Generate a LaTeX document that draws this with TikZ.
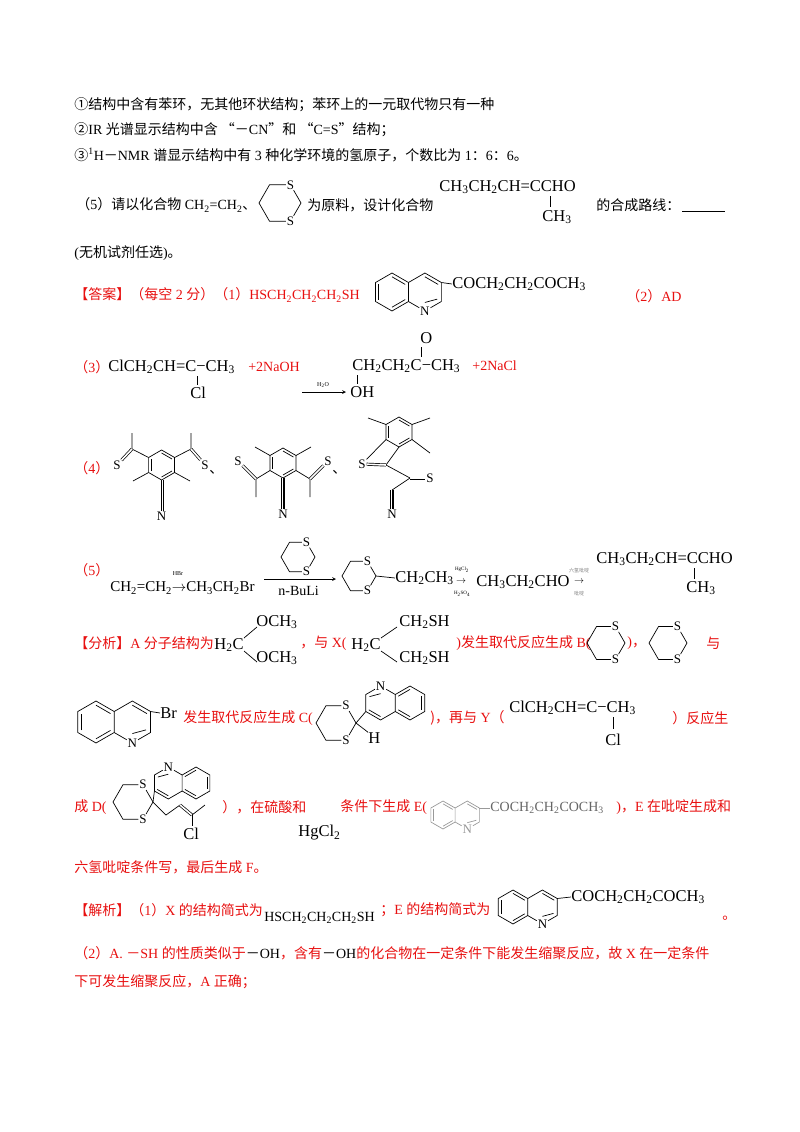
\documentclass[tikz,border=0pt]{standalone}
\usepackage{fontspec}
\setmainfont{Liberation Serif}
\newfontfamily\cj{Noto Sans CJK SC}
\usetikzlibrary{calc,positioning}
\definecolor{ans}{RGB}{232,16,16}
\newcommand\s[1]{\textsubscript{#1}}
\newcommand\zh[1]{{\cj #1}}
\tikzset{
  tx/.style={anchor=west,inner sep=0pt,font=\fontsize{14}{16}\selectfont},
  fm/.style={anchor=west,inner sep=0pt,font=\fontsize{16.5}{18}\selectfont},
  atm/.style={inner sep=0.6pt,font=\fontsize{13}{14}\selectfont},
  dbl/.style={double,double distance=1.6pt},
  tri/.style={double,double distance=2.6pt}
}
% pointy-top ring, vertices v1..v6 clockwise from top
\newcommand\benz[3]{%
  \coordinate (c) at (#1,#2);
  \foreach \k in {1,...,6}{\coordinate (v\k) at ($(c)+({90-60*(\k-1)}:#3pt)$);}
  \draw (v1)--(v2)--(v3)--(v4)--(v5)--(v6)--cycle;
  \foreach \p/\q in {v1/v2,v3/v4,v5/v6}{\draw ($(\p)!.2!(c)$)--($(\q)!.2!(c)$);}}
% quinoline, (qs) is the 3-position
\newcommand\quin[4]{%
  \begin{scope}[shift={(#1,#2)},rotate=#4]
  \coordinate (c) at (0,0);
  \coordinate (cr) at ({1.732*#3pt},0pt);
  \foreach \k in {1,...,6}{
    \coordinate (L\k) at ($(c)+({90-60*(\k-1)}:#3pt)$);
    \coordinate (R\k) at ($(cr)+({90-60*(\k-1)}:#3pt)$);}
  \node[atm] (qn) at (R4) {N};
  \draw (L1)--(L2)--(L3)--(L4)--(L5)--(L6)--cycle;
  \draw (L2)--(R1)--(R2)--(R3)--(qn)--(L3);
  \foreach \p/\q in {L1/L2,L3/L4,L5/L6}{\draw ($(\p)!.2!(c)$)--($(\q)!.2!(c)$);}
  \draw ($(R1)!.2!(cr)$)--($(R2)!.2!(cr)$);
  \draw ($(R3)!.25!(cr)$)--($(R4)!.45!(cr)$);
  \coordinate (qs) at (R2);
  \end{scope}}
% 1,3-dithiane, (ds) is the C between the S atoms
\newcommand\dith[3]{%
  \coordinate (c) at (#1,#2);
  \foreach \a in {0,120,180,240}{\coordinate (d\a) at ($(c)+(\a:#3pt)$);}
  \node[atm] (dS1) at ($(c)+(60:#3pt)$) {S};
  \node[atm] (dS2) at ($(c)+(300:#3pt)$) {S};
  \draw (dS1)--(d0)--(dS2)--(d240)--(d180)--(d120)--(dS1);
  \coordinate (ds) at (d0);}

\begin{document}
\begin{tikzpicture}[x=1pt,y=-1pt,line width=0.7pt,>=stealth]
\fill[white] (0,0) rectangle (800,1132);

% conditions
\node[tx] (c1) at (74,105) {\zh{①结构中含有苯环，无其他环状结构；苯环上的一元取代物只有一种}};
\node[tx] (c2) at (74,130) {\zh{②}IR \zh{光谱显示结构中含 “－}CN\zh{”和 “}C=S\zh{”结构；}};
\node[tx] (c3) at (74,155) {\zh{③}\textsuperscript{1}H\zh{－}NMR \zh{谱显示结构中有} 3 \zh{种化学环境的氢原子，个数比为} 1\zh{：}6\zh{：}6\zh{。}};

% question (5)
\node[tx] (q5) at (76,205) {\zh{（}5\zh{）请以化合物} CH\s{2}=CH\s{2}\zh{、}};
\dith{280}{203}{21}
\node[tx] (q5b) at (307,205) {\zh{为原料，设计化合物}};
\node[fm] (tgt) at (439,187) {CH\s{3}CH\s{2}CH=CCHO};
\node[fm,anchor=north] (tgtm) at (557,210) {CH\s{3}};
\draw (550,196)--(550,207);
\node[tx] (q5c) at (596,205) {\zh{的合成路线：}};
\draw (682,211)--(725,211);
\node[tx] (q5d) at (74,253) {(\zh{无机试剂任选})\zh{。}};

% answer (1)(2)
\node[tx,text=ans] (a1) at (74,295) {\zh{【答案】（每空} 2 \zh{分）（}1\zh{）}HSCH\s{2}CH\s{2}CH\s{2}SH};
\quin{392}{292}{19}{0}
\node[fm] (a1e) at (452,284) {COCH\s{2}CH\s{2}COCH\s{3}};
\draw (qs)--(a1e.west);
\node[tx,text=ans] (a2) at (626,296) {\zh{（}2\zh{）}AD};

% answer (3)
\node[tx,text=ans] (a3) at (74,367) {\zh{（}3\zh{）}};
\node[fm] (y3) at (108,367) {ClCH\s{2}CH=C−CH\s{3}};
\node[fm] (y3cl) at (190,393) {Cl};
\draw (197,376)--(197,385);
\node[tx,text=ans] (a3b) at (248,367) {+2NaOH};
\node[font=\fontsize{6}{6}\selectfont,inner sep=0pt] (h2o) at (323,385) {H\s{2}O};
\draw[->] (302,392)--(346,392);
\node[fm] (p3) at (352,366) {CH\s{2}CH\s{2}C−CH\s{3}};
\node[fm] (p3o) at (420,338) {O};
\draw[dbl] (420,347)--(420,357);
\node[fm] (p3oh) at (350,392) {OH};
\draw (357,375)--(357,384);
\node[tx,text=ans] (a3c) at (472,366) {+2NaCl};

% answer (4)
\node[tx,text=ans] (a4) at (74,468) {\zh{（}4\zh{）}};
\benz{161.6}{465}{15}
\node[atm] (s1a) at (117,465) {S};
\node[atm] (s1b) at (205,465) {S};
\draw (v6)--(132,449)--(132,433);
\draw[dbl] (132,449)--(s1a);
\draw (v2)--(191,449)--(191,433);
\draw[dbl] (191,449)--(s1b);
\draw (v5)--(133,481);
\draw (v3)--(190,481);
\node[atm] (n1) at (161.6,516) {N};
\draw[tri] (v4)--(n1);
\draw (v4)--(n1);
\node[tx] (sep1) at (209,472) {\zh{、}};
\benz{283}{463}{15}
\draw (v6)--(255,447);
\draw (v2)--(311,447);
\node[atm] (s2a) at (238,461) {S};
\node[atm] (s2b) at (328,461) {S};
\draw (v5)--(256,479)--(256,497);
\draw[dbl] (256,479)--(s2a);
\draw (v3)--(310,479)--(310,497);
\draw[dbl] (310,479)--(s2b);
\node[atm] (n2) at (283,514) {N};
\draw[tri] (v4)--(n2);
\draw (v4)--(n2);
\node[tx] (sep2) at (332,472) {\zh{、}};
\benz{399}{432}{15}
\draw (v6)--(368,418);
\draw (v2)--(430,418);
\draw (v3)--(430,453);
\node[atm] (s3a) at (362,464) {S};
\node[atm] (s3b) at (430,478) {S};
\node[atm] (n3) at (392,514) {N};
\draw (v5)--(s3a);
\draw (v4)--(386,465);
\draw[dbl] (s3a)--(386,465);
\draw (386,465)--(410,478);
\draw[dbl] (410,478)--(s3b);
\draw (410,478)--(392,490);
\draw[tri] (392,490)--(n3);
\draw (392,490)--(n3);

% answer (5)
\node[tx,text=ans] (a5) at (74,570) {\zh{（}5\zh{）}};
\node[tx,font=\fontsize{15}{16}\selectfont] (r1) at (110,588) {CH\s{2}=CH\s{2}$\rightarrow$CH\s{3}CH\s{2}Br};
\node[font=\fontsize{6}{6}\selectfont,inner sep=0pt] (hbr) at (178,574) {HBr};
\dith{298}{557}{17}
\draw[->] (264,579)--(336,579);
\node[tx] (nbu) at (278,591) {n-BuLi};
\dith{359}{576}{17}
\node[fm] (r2) at (395,578) {CH\s{2}CH\s{3}};
\draw (ds)--(r2.west);
\node[font=\fontsize{5}{5}\selectfont,inner sep=0pt] (hg) at (462,570) {HgCl\s{2}};
\node[font=\fontsize{5}{5}\selectfont,inner sep=0pt] (h2s) at (462,594) {H\s{2}SO\s{4}};
\node[font=\fontsize{10}{10}\selectfont,inner sep=0pt] (ar2) at (461,582) {$\rightarrow$};
\node[fm] (r3) at (476,582) {CH\s{3}CH\s{2}CHO};
\node[font=\fontsize{5}{5}\selectfont,inner sep=0pt,text=gray] (pp1) at (579,571) {\zh{六氢吡啶}};
\node[font=\fontsize{5}{5}\selectfont,inner sep=0pt,text=gray] (pp2) at (579,594) {\zh{吡啶}};
\node[font=\fontsize{10}{10}\selectfont,inner sep=0pt] (ar3) at (579,582) {$\rightarrow$};
\node[fm] (r4) at (596,559) {CH\s{3}CH\s{2}CH=CCHO};
\node[fm,anchor=north] (r4m) at (701,581) {CH\s{3}};
\draw (694,568)--(694,579);

% analysis
\node[tx,text=ans] (f1) at (74,643) {\zh{【分析】}A \zh{分子结构为}};
\node[fm] (ah) at (214,645) {H\s{2}C};
\node[fm] (ao1) at (256,622) {OCH\s{3}};
\node[fm] (ao2) at (256,658) {OCH\s{3}};
\draw (244,638)--(257,627);
\draw (244,651)--(257,662);
\node[tx,text=ans] (f2) at (300,643) {\zh{，与} X(};
\node[fm] (xh) at (351,645) {H\s{2}C};
\node[fm] (xs1) at (399,622) {CH\s{2}SH};
\node[fm] (xs2) at (399,658) {CH\s{2}SH};
\draw (381,638)--(397,627);
\draw (381,651)--(397,662);
\node[tx,text=ans] (f3) at (456,643) {)\zh{发生取代反应生成} B(};
\dith{606}{643}{19}
\node[tx,text=ans] (f4) at (627,643) {)\zh{，}};
\dith{668}{643}{19}
\node[tx,text=ans] (f5) at (706,643) {\zh{与}};

\quin{96}{722}{21}{0}
\node[fm] (br) at (160,713) {Br};
\draw (qs)--(br.west);
\node[tx,text=ans] (f6) at (183,718) {\zh{发生取代反应生成} C(};
\dith{336}{723}{20}
\node[fm] (hc) at (368,738) {H};
\draw (ds)--(hc.north west);
\quin{410}{703}{17}{180}
\draw (ds)--(qs);
\node[tx,text=ans] (f7) at (430,718) {\zh{)，再与} Y\zh{（}};
\node[fm] (yy) at (509,708) {ClCH\s{2}CH=C−CH\s{3}};
\draw (613,717)--(613,729);
\node[fm] (ycl) at (605,740) {Cl};
\node[tx,text=ans] (f8) at (672,718) {\zh{）反应生}};

\node[tx,text=ans] (f9) at (74,807) {\zh{成} D(};
\dith{133}{802}{20}
\quin{196}{783}{16}{180}
\draw (ds)--(qs);
\draw (ds)--(166,815)--(180,805);
\draw[dbl] (180,805)--(192,815);
\draw (192,815)--(205,805);
\draw (192,815)--(192,826);
\node[fm] (dcl) at (183,834) {Cl};
\node[tx,text=ans] (f10) at (222,807) {\zh{），在硫酸和}};
\node[fm] (hgcl) at (298,833) {HgCl\s{2}};
\node[tx,text=ans] (f11) at (340,807) {\zh{条件下生成} E(};
\begin{scope}[gray!80]
\quin{443}{815}{14}{0}
\end{scope}
\node[fm,text=gray!80!black,font=\fontsize{14}{16}\selectfont] (ee) at (490,808) {COCH\s{2}CH\s{2}COCH\s{3}};
\draw[gray!80] (qs)--(ee.west);
\node[tx,text=ans] (f12) at (616,807) {)\zh{，}E \zh{在吡啶生成和}};
\node[tx,text=ans] (f13) at (74,867) {\zh{六氢吡啶条件写，最后生成} F\zh{。}};

% explanation
\node[tx,text=ans] (g1) at (74,910) {\zh{【解析】（}1\zh{）}X \zh{的结构简式为}};
\node[tx] (g2) at (264,918) {HSCH\s{2}CH\s{2}CH\s{2}SH};
\node[tx,text=ans] (g3) at (380,910) {\zh{；}E \zh{的结构简式为}};
\quin{513}{907}{17}{0}
\node[fm] (ge) at (571,897) {COCH\s{2}CH\s{2}COCH\s{3}};
\draw (qs)--(ge.west);
\node[tx,text=ans] (g4) at (722,918) {\zh{。}};
\node[tx,text=ans] (g5) at (74,953) {\zh{（}2\zh{）}A. \zh{－}SH \zh{的性质类似于}\textcolor{black}{\zh{－}OH}\zh{，含有}\textcolor{black}{\zh{－}OH}\zh{的化合物在一定条件下能发生缩聚反应，故} X \zh{在一定条件}};
\node[tx,text=ans] (g6) at (74,982) {\zh{下可发生缩聚反应，}A \zh{正确；}};
\end{tikzpicture}
\end{document}
